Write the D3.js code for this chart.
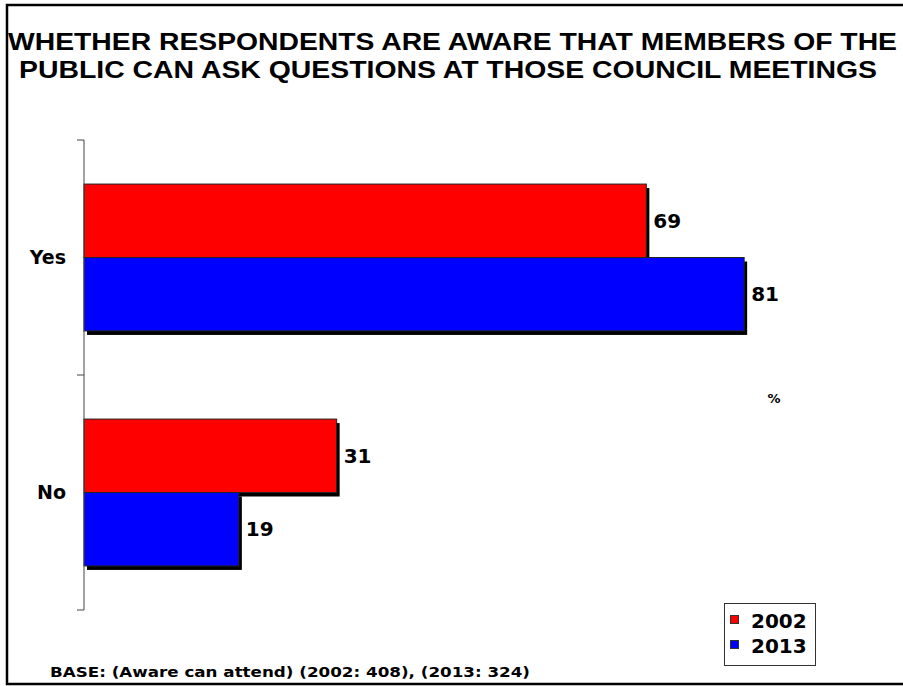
<!DOCTYPE html>
<html>
<head>
<meta charset="utf-8">
<script src="https://cdn.jsdelivr.net/npm/d3@7"></script>
<style>
  html, body { margin: 0; padding: 0; background: #fff; }
  svg { display: block; }
  .bold { font-family: Verdana, "DejaVu Sans", sans-serif; font-weight: bold; fill: #000; }
</style>
</head>
<body>
<script>
// Chart data
const categories = ["Yes", "No"];
const seriesNames = ["2002", "2013"];
const values2002 = [69, 31];
const values2013 = [81, 19];
const seriesColors = ["#ff0000", "#0000ff"];
const titleLines = [
  "WHETHER RESPONDENTS ARE AWARE THAT MEMBERS OF THE",
  "PUBLIC CAN ASK QUESTIONS AT THOSE COUNCIL MEETINGS"
];
const footerText = "BASE: (Aware can attend) (2002: 408), (2013: 324)";
const unitLabel = "%";

const W = 903, H = 686;
const svg = d3.select("body").append("svg").attr("width", W).attr("height", H);

// Outer frame
svg.append("path")
  .attr("d", `M${W + 2},5 H7 V684 H${W + 2}`)
  .attr("fill", "none").attr("stroke", "#000").attr("stroke-width", 2.5);

// Title
svg.selectAll("text.title").data(titleLines).enter().append("text")
  .attr("class", "title")
  .attr("x", (d, i) => i === 0 ? 8 : 19)
  .attr("y", (d, i) => i === 0 ? 50 : 78)
  .attr("textLength", (d, i) => i === 0 ? 889 : 858)
  .attr("lengthAdjust", "spacingAndGlyphs")
  .style("font-family", "'Liberation Sans', Arial, sans-serif")
  .style("font-weight", "bold")
  .style("font-size", "24.5px")
  .text(d => d);

// Scales
const y = d3.scaleBand().domain(categories).range([140, 610]).padding(0);
const ySub = d3.scaleBand().domain(seriesNames).range([0, y.step()]).paddingInner(0).paddingOuter(0.6);
const x = d3.scaleLinear().domain([0, 100]).range([84, 899]);

const rows = [];
categories.forEach((c, i) => {
  rows.push({ cat: c, series: seriesNames[0], value: values2002[i], color: seriesColors[0] });
  rows.push({ cat: c, series: seriesNames[1], value: values2013[i], color: seriesColors[1] });
});

// Drop shadows drawn first, so neighbouring bars sit on top of them
svg.append("g").selectAll("rect").data(rows).enter().append("rect")
  .attr("x", x(0) + 3)
  .attr("y", d => y(d.cat) + ySub(d.series) + 4)
  .attr("width", d => x(d.value) - x(0))
  .attr("height", ySub.bandwidth())
  .attr("fill", "#000");

// Bars
svg.append("g").selectAll("rect").data(rows).enter().append("rect")
  .attr("x", x(0))
  .attr("y", d => y(d.cat) + ySub(d.series))
  .attr("width", d => x(d.value) - x(0))
  .attr("height", ySub.bandwidth())
  .attr("fill", d => d.color)
  .attr("stroke", "#222").attr("stroke-width", 1);

// Value labels
svg.append("g").selectAll("text").data(rows).enter().append("text")
  .attr("class", "bold")
  .attr("x", d => x(d.value) + 7)
  .attr("y", d => y(d.cat) + ySub(d.series) + ySub.bandwidth() / 2)
  .attr("dy", "0.36em")
  .style("font-size", "20px")
  .text(d => d.value);

// Category axis: line with ticks at category boundaries
const axisG = svg.append("g");
axisG.append("line")
  .attr("x1", x(0)).attr("x2", x(0))
  .attr("y1", y.range()[0]).attr("y2", y.range()[1])
  .attr("stroke", "#444").attr("stroke-width", 1);
const boundaries = categories.map(c => y(c)).concat([y.range()[1]]);
axisG.selectAll("line.tick").data(boundaries).enter().append("line")
  .attr("class", "tick")
  .attr("x1", x(0) - 7).attr("x2", x(0))
  .attr("y1", d => d).attr("y2", d => d)
  .attr("stroke", "#444").attr("stroke-width", 1);
axisG.selectAll("text").data(categories).enter().append("text")
  .attr("class", "bold")
  .attr("x", 66)
  .attr("y", d => y(d) + y.bandwidth() / 2)
  .attr("dy", "0.36em")
  .attr("text-anchor", "end")
  .style("font-size", "19px")
  .text(d => d);

// Unit label
svg.append("text").attr("class", "bold")
  .attr("x", 774).attr("y", 403)
  .attr("text-anchor", "middle")
  .style("font-size", "13px")
  .text(unitLabel);

// Legend
const lg = svg.append("g");
lg.append("rect").attr("x", 724.5).attr("y", 603.5).attr("width", 91).attr("height", 62)
  .attr("fill", "#fff").attr("stroke", "#333").attr("stroke-width", 1);
seriesNames.forEach((s, i) => {
  lg.append("rect").attr("x", 730.5).attr("y", 615.5 + i * 25).attr("width", 8).attr("height", 8)
    .attr("fill", seriesColors[i]).attr("stroke", "#333").attr("stroke-width", 1);
  lg.append("text").attr("class", "bold")
    .attr("x", 751).attr("y", 628 + i * 25)
    .style("font-size", "20px")
    .text(s);
});

// Footer
svg.append("text").attr("class", "bold")
  .attr("x", 50).attr("y", 677)
  .attr("textLength", 480).attr("lengthAdjust", "spacingAndGlyphs")
  .style("font-size", "14px")
  .text(footerText);
</script>
</body>
</html>
